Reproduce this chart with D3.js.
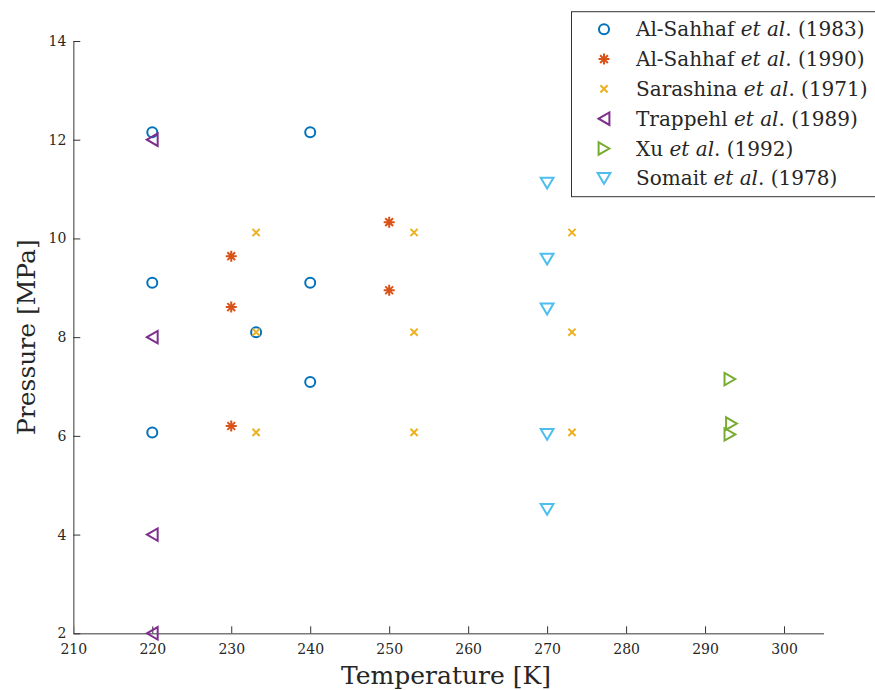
<!DOCTYPE html>
<html>
<head>
<meta charset="utf-8">
<script src="https://cdn.jsdelivr.net/npm/d3@7"></script>
<style>
  html, body { margin: 0; padding: 0; background: #fff; }
  svg { display: block; }
  text { font-family: "DejaVu Serif", "Liberation Serif", serif; fill: #262626; }
</style>
</head>
<body>
<svg id="chart" width="875" height="690"></svg>
<script>
// Phase-equilibrium measurements: temperature [K] vs pressure [MPa]
const alSahhaf1983T = [220, 220, 220, 233.15, 240, 240, 240];
const alSahhaf1983P = [12.15, 9.10, 6.07, 8.10, 12.15, 9.10, 7.09];

const alSahhaf1990T = [230, 230, 230, 250, 250];
const alSahhaf1990P = [9.64, 8.61, 6.20, 10.33, 8.95];

const sarashinaT = [233.15, 233.15, 233.15, 253.15, 253.15, 253.15, 273.15, 273.15, 273.15];
const sarashinaP = [10.12, 8.10, 6.07, 10.12, 8.10, 6.07, 10.12, 8.10, 6.07];

const trappehlT = [220, 220, 220, 220];
const trappehlP = [12, 8, 4, 2];

const xuT = [293.15, 293.35, 293.15];
const xuP = [7.15, 6.25, 6.03];

const somaitT = [270, 270, 270, 270, 270];
const somaitP = [11.12, 9.58, 8.57, 6.03, 4.51];

const xTicks = [210, 220, 230, 240, 250, 260, 270, 280, 290, 300];
const yTicks = [2, 4, 6, 8, 10, 12, 14];

const seriesNames = [
  ["Al-Sahhaf ", "et al", ". (1983)"],
  ["Al-Sahhaf ", "et al", ". (1990)"],
  ["Sarashina ", "et al", ". (1971)"],
  ["Trappehl ", "et al", ". (1989)"],
  ["Xu ", "et al", ". (1992)"],
  ["Somait ", "et al", ". (1978)"]
];
const seriesColors = ["#0072BD", "#D95319", "#EDB120", "#7E2F8E", "#77AC30", "#4DBEEE"];

const serifFont = "'DejaVu Serif', 'Liberation Serif', serif";

// Marker outlines, centred on the origin
const markerPaths = {
  circle: () => d3.symbol(d3.symbolCircle, Math.PI * 5 * 5)(),
  asterisk: () => "M-5.5,0L5.5,0M0,-5.5L0,5.5M-3.9,-3.9L3.9,3.9M-3.9,3.9L3.9,-3.9",
  cross: () => "M-3.6,-3.6L3.6,3.6M-3.6,3.6L3.6,-3.6",
  triLeft: () => "M-5.4,0L5.4,-6.2L5.4,6.2Z",
  triRight: () => "M5.4,0L-5.4,-6.2L-5.4,6.2Z",
  triDown: () => "M0,5.4L-6.4,-5.4L6.4,-5.4Z"
};

const series = [
  { t: alSahhaf1983T, p: alSahhaf1983P, marker: "circle" },
  { t: alSahhaf1990T, p: alSahhaf1990P, marker: "asterisk" },
  { t: sarashinaT, p: sarashinaP, marker: "cross" },
  { t: trappehlT, p: trappehlP, marker: "triLeft" },
  { t: xuT, p: xuP, marker: "triRight" },
  { t: somaitT, p: somaitP, marker: "triDown" }
].map((s, i) => ({ ...s, name: seriesNames[i], color: seriesColors[i] }));

const svg = d3.select("#chart");

const x = d3.scaleLinear().domain([210, 305]).range([73.3, 823.5]);
const y = d3.scaleLinear().domain([2, 14]).range([633.3, 41]);

// Axes (ticks point inward, no box)
const xAxis = svg.append("g")
  .attr("transform", `translate(0,${y(2)})`)
  .call(d3.axisBottom(x).tickValues(xTicks).tickFormat(d3.format("d"))
    .tickSizeInner(-7).tickSizeOuter(0).tickPadding(11));
const yAxis = svg.append("g")
  .attr("transform", `translate(${x(210)},0)`)
  .call(d3.axisLeft(y).tickValues(yTicks).tickFormat(d3.format("d"))
    .tickSizeInner(-7).tickSizeOuter(0).tickPadding(7));

[xAxis, yAxis].forEach(g => {
  g.attr("font-family", serifFont);
  g.select(".domain").attr("stroke", "#7a7a7a").attr("stroke-width", 1.5);
  g.selectAll(".tick line").attr("stroke", "#333").attr("stroke-width", 1);
  g.selectAll(".tick text")
    .style("font-family", serifFont)
    .style("font-size", "14px")
    .attr("fill", "#262626");
});

// Axis titles
svg.append("text")
  .attr("x", 446).attr("y", 684)
  .attr("text-anchor", "middle")
  .style("font-size", "25px")
  .text("Temperature [K]");

svg.append("text")
  .attr("transform", `translate(35,${(y(2) + y(14)) / 2}) rotate(-90)`)
  .attr("text-anchor", "middle")
  .style("font-size", "25px")
  .text("Pressure [MPa]");

// Data markers
series.forEach(s => {
  svg.append("g")
    .selectAll("path")
    .data(s.t.map((t, i) => ({ t, p: s.p[i] })))
    .join("path")
    .attr("transform", d => `translate(${x(d.t)},${y(d.p)})`)
    .attr("d", markerPaths[s.marker]())
    .attr("fill", "none")
    .attr("stroke", s.color)
    .attr("stroke-width", 2);
});

// Legend
const legend = svg.append("g");
legend.append("rect")
  .attr("x", 571.5).attr("y", 11.7)
  .attr("width", 320).attr("height", 185)
  .attr("fill", "#fff")
  .attr("stroke", "#333")
  .attr("stroke-width", 1);

const rowY = d3.scaleLinear().domain([0, 5]).range([29.3, 178.3]);
series.forEach((s, i) => {
  const row = legend.append("g").attr("transform", `translate(0,${rowY(i)})`);
  row.append("path")
    .attr("transform", "translate(604,0)")
    .attr("d", markerPaths[s.marker]())
    .attr("fill", "none")
    .attr("stroke", s.color)
    .attr("stroke-width", 2);
  const label = row.append("text")
    .attr("x", 636).attr("y", 7)
    .style("font-size", "20px");
  label.append("tspan").text(s.name[0]);
  label.append("tspan").style("font-style", "italic").text(s.name[1]);
  label.append("tspan").text(s.name[2]);
});
</script>
</body>
</html>
